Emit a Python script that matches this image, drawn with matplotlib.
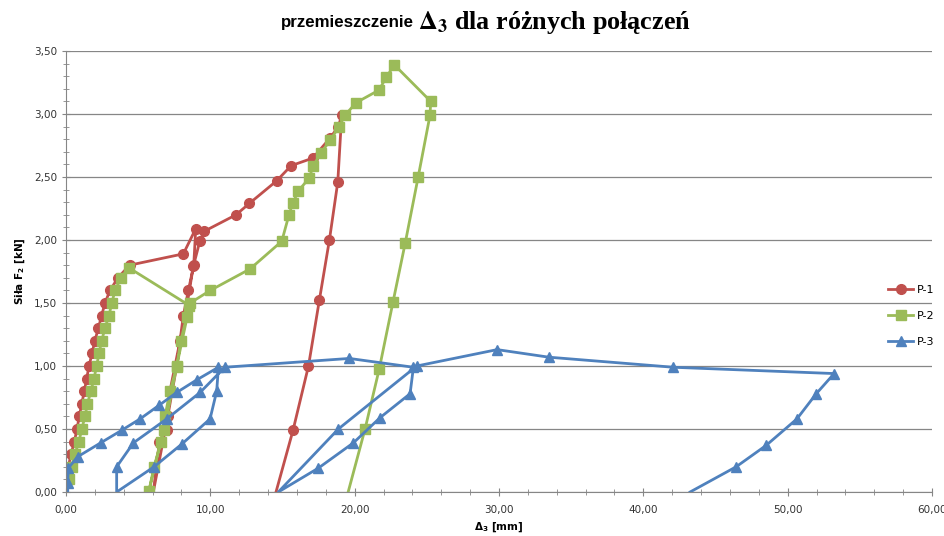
import matplotlib
matplotlib.use("Agg")
import matplotlib.pyplot as plt
import numpy as np
from matplotlib.ticker import MultipleLocator, FuncFormatter

# P-1 (red circles)
p1_x = [0.0, 0.16, 0.35, 0.58, 0.76, 0.92, 1.09, 1.27, 1.43, 1.6, 1.8, 2.0, 2.24, 2.47, 2.7, 3.05, 3.6, 4.4,
        8.13, 8.99,
        8.85, 8.48, 8.13, 7.67, 7.05, 6.05,
        6.47, 6.98, 7.2, 7.9, 8.25, 8.82, 9.27, 9.59,
        11.78, 12.7, 14.6, 15.6, 17.1, 18.3, 18.87, 19.1,
        18.83, 18.25, 17.55, 16.8, 15.73, 14.55]
p1_f = [0.1, 0.2, 0.3, 0.4, 0.5, 0.6, 0.7, 0.8, 0.9, 1.0, 1.1, 1.2, 1.3, 1.4, 1.5, 1.6, 1.7, 1.8,
        1.89, 2.09,
        1.8, 1.6, 1.4, 1.0, 0.6, 0.0,
        0.4, 0.49, 0.8, 1.2, 1.39, 1.79, 1.99, 2.07,
        2.2, 2.29, 2.47, 2.59, 2.65, 2.81, 2.9, 2.99,
        2.46, 2.0, 1.52, 1.0, 0.49, 0.0]

# P-2 (green squares)
p2_x = [0.2, 0.39, 0.62, 0.9, 1.09, 1.32, 1.48, 1.73, 1.94, 2.12, 2.29, 2.47, 2.7, 2.98, 3.17, 3.4, 3.81, 4.35,
        8.55,
        8.36, 7.95, 7.67, 7.2, 6.86, 6.56, 5.75,
        6.1, 6.81, 7.67, 8.6,
        10.0, 12.75, 14.95, 15.45, 15.7, 16.1, 16.84, 17.14, 17.65, 18.3, 18.92, 19.33,
        20.1, 21.69, 22.18, 22.75, 25.27, 25.22,
        24.4, 23.51, 22.66, 21.71, 20.72, 19.55]
p2_f = [0.1, 0.2, 0.3, 0.4, 0.5, 0.6, 0.7, 0.8, 0.9, 1.0, 1.1, 1.2, 1.3, 1.4, 1.5, 1.6, 1.7, 1.78,
        1.48,
        1.39, 1.2, 0.99, 0.8, 0.6, 0.4, 0.01,
        0.2, 0.49, 1.0, 1.5,
        1.6, 1.77, 1.99, 2.2, 2.29, 2.39, 2.49, 2.59, 2.69, 2.79, 2.9, 2.99,
        3.09, 3.19, 3.29, 3.39, 3.1, 2.99,
        2.5, 1.98, 1.51, 0.98, 0.5, 0.0]

# P-3 (blue triangles)
p3_x = [0.12, 0.12, 0.16, 0.81, 2.4, 3.86, 5.13, 6.47, 7.67, 9.06, 10.56,
        10.44, 9.98, 8.02, 6.1, 3.51,
        3.51, 4.67, 6.98, 9.29, 11.0,
        19.63, 24.07,
        23.84, 21.76, 19.91, 17.49, 14.71,
        18.87, 24.3, 29.87, 33.45, 42.09, 53.22,
        51.98, 50.64, 48.51, 46.43, 43.24]
p3_f = [0.0, 0.07, 0.19, 0.28, 0.39, 0.49, 0.58, 0.69, 0.79, 0.89, 0.99,
        0.8, 0.58, 0.38, 0.2, 0.0,
        0.2, 0.39, 0.58, 0.79, 0.99,
        1.06, 0.99,
        0.78, 0.59, 0.39, 0.19, 0.0,
        0.5, 1.0, 1.13, 1.07, 0.99, 0.94,
        0.78, 0.58, 0.37, 0.2, 0.0]

series = [("P-1", p1_x, p1_f, "#C0504D", "o", 7),
          ("P-2", p2_x, p2_f, "#9BBB59", "s", 7),
          ("P-3", p3_x, p3_f, "#4F81BD", "^", 7.5)]

fig = plt.figure(figsize=(9.45, 5.36), dpi=100)
ax = fig.add_axes([66/945, 44/536, (932-66)/945, (492-51)/536])

for name, xs, fs, col, mk, ms in series:
    fs = np.array(fs)
    ax.plot(xs, fs, color=col, lw=2, marker=mk, ms=ms, label=name,
            markevery=list(fs != 0))  # no marker where the curve crosses the axis

ax.set_xlim(0, 60)
ax.set_ylim(0, 3.5)
ax.xaxis.set_major_locator(MultipleLocator(10))
ax.xaxis.set_minor_locator(MultipleLocator(2))
ax.yaxis.set_major_locator(MultipleLocator(0.5))
ax.yaxis.set_minor_locator(MultipleLocator(0.1))
fmt = FuncFormatter(lambda v, p: f"{v:.2f}".replace(".", ","))
ax.xaxis.set_major_formatter(fmt)
ax.yaxis.set_major_formatter(fmt)

grey = "#868686"
ax.grid(axis="y", which="major", color=grey, lw=0.9)
ax.set_axisbelow(True)
for s in ["top", "right"]:
    ax.spines[s].set_visible(False)
for s in ["left", "bottom"]:
    ax.spines[s].set_color(grey)
ax.tick_params(which="both", direction="inout", color=grey, labelsize=7.5, labelcolor="#333333")
ax.tick_params(which="major", length=6)
ax.tick_params(which="minor", length=5)
ax.tick_params(axis="x", pad=6)

ax.set_xlabel(r"$\mathbf{\Delta_3}$ [mm]", fontsize=7.5, fontweight="bold", labelpad=4)
ax.set_ylabel(r"Siła F$_\mathbf{2}$ [kN]", fontsize=7.5, fontweight="bold", labelpad=5)

split = 414/945
fig.text(split, 0.958, "przemieszczenie", ha="right", va="center",
         fontsize=12.2, fontweight="bold", family="Liberation Sans")
fig.text(split + 4/945, 0.958, r"$\mathbf{\Delta_3}$ dla różnych połączeń", ha="left", va="center",
         fontsize=18.8, fontweight="bold", family="Liberation Serif", math_fontfamily="stix")

ax.legend(loc="center left", bbox_to_anchor=(884/945, 1-316/536), bbox_transform=fig.transFigure,
          frameon=False, fontsize=8, handlelength=2.2, handletextpad=0.4, labelspacing=1.45,
          borderaxespad=0)

fig.savefig("out.png", dpi=100)
